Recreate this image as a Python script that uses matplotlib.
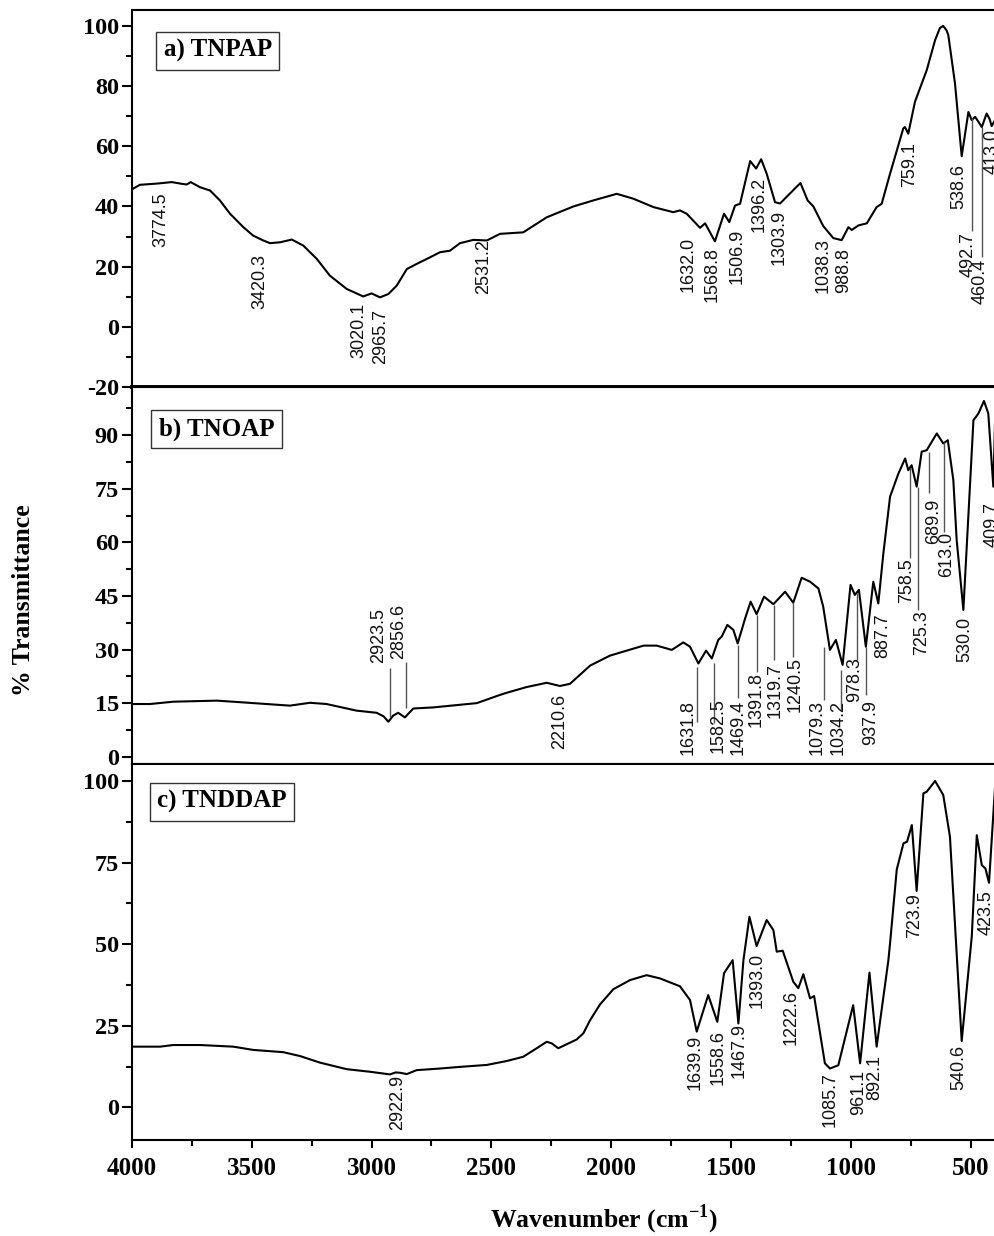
import numpy as np
import matplotlib
matplotlib.use("Agg")
import matplotlib.pyplot as plt
from matplotlib.ticker import MultipleLocator

plt.rcParams['font.family'] = ['Liberation Serif', 'DejaVu Serif']
plt.rcParams['mathtext.fontset'] = 'custom'
plt.rcParams['mathtext.rm'] = 'Liberation Serif'
plt.rcParams['mathtext.bf'] = 'Liberation Serif:bold'
plt.rcParams['axes.unicode_minus'] = False

# ---- a) TNPAP spectrum (wavenumber cm-1, %T) ----
tnpap_wn = [4000, 3967, 3897, 3834, 3790, 3772, 3755, 3716, 3674, 3633, 3591, 3535,
            3494, 3452, 3424, 3382, 3333, 3285, 3229, 3174, 3104, 3035, 3000, 2965,
            2930, 2895, 2853, 2812, 2756, 2714, 2673, 2631, 2575, 2519, 2464, 2367,
            2269, 2158, 2075, 1977, 1908, 1824, 1741, 1713, 1685, 1629, 1608, 1567,
            1529, 1507, 1483, 1462, 1420, 1395, 1374, 1351, 1316, 1295, 1254, 1210,
            1180, 1156, 1115, 1073, 1038, 1010, 996, 968, 933, 892, 871, 836, 781,
            774, 760, 750, 732, 683, 648, 628, 614, 600, 593, 565, 537, 509, 495,
            481, 470, 453, 433, 420, 412, 398]
tnpap_t = [45.7, 47.2, 47.6, 48.1, 47.5, 47.3, 48.1, 46.4, 45.3, 42.0, 37.6, 33.1,
           30.3, 28.7, 27.8, 28.1, 29.0, 27.0, 22.6, 17.0, 12.6, 10.1, 11.1, 9.8,
           10.9, 13.7, 19.2, 20.9, 23.1, 24.8, 25.3, 27.8, 28.9, 28.7, 30.9, 31.4,
           36.4, 40.0, 42.0, 44.2, 42.6, 39.8, 38.1, 38.7, 37.6, 32.9, 34.4, 28.4,
           37.6, 34.8, 40.3, 40.9, 55.1, 52.6, 55.7, 50.9, 41.4, 41.0, 44.3, 47.8,
           42.0, 40.0, 33.5, 29.5, 28.8, 33.1, 32.2, 33.7, 34.4, 39.8, 40.9, 50.9, 65.9,
           66.4, 64.2, 68.0, 74.8, 85.3, 95.3, 99.3, 100.0, 98.5, 97.0, 80.9, 56.7, 71.4, 68.7,
           69.8, 68.5, 66.4, 70.9, 69.0, 66.7, 68.7]

# ---- b) TNOAP spectrum ----
tnoap_wn = [4000, 3925, 3828, 3646, 3535, 3341, 3257, 3188, 3063, 2979, 2950, 2930,
            2910, 2889, 2861, 2826, 2743, 2561, 2464, 2436, 2353, 2269, 2214, 2172,
            2088, 2005, 1865, 1810, 1747, 1699, 1671, 1636, 1604, 1580, 1553, 1539,
            1515, 1490, 1472, 1441, 1418, 1393, 1362, 1323, 1274, 1240, 1205, 1170,
            1135, 1115, 1087, 1062, 1034, 1001, 983, 966, 937, 906, 885, 864, 836,
            801, 773, 760, 746, 725, 704, 683, 641, 614, 595, 572, 558, 530, 488,
            467, 444, 426, 405, 398]
tnoap_t = [14.75, 14.75, 15.4, 15.7, 15.2, 14.3, 15.1, 14.75, 12.9, 12.3, 11.3, 9.8,
           11.5, 12.3, 11.0, 13.5, 13.8, 15.0, 17.3, 17.9, 19.5, 20.7, 19.8, 20.4,
           25.5, 28.3, 31.1, 31.1, 29.9, 32.0, 30.8, 26.1, 29.7, 27.5, 32.7, 33.6,
           36.9, 35.5, 31.7, 38.7, 43.4, 39.9, 44.8, 42.7, 46.2, 43.1, 50.1, 49.0,
           47.1, 42.0, 29.9, 32.7, 25.7, 48.1, 45.3, 46.7, 30.8, 49.0, 42.9, 56.9, 72.8,
           79.3, 83.5, 80.2, 81.6, 75.6, 85.4, 85.8, 90.5, 87.7, 88.6, 77.5, 60.7, 41.1, 94.2,
           96.1, 99.6, 96.1, 75.6, 93.3]

# ---- c) TNDDAP spectrum ----
tnddap_wn = [4000, 3883, 3828, 3716, 3577, 3494, 3368, 3298, 3215, 3104, 3006, 2923,
             2900, 2881, 2853, 2812, 2714, 2631, 2519, 2436, 2367, 2311, 2269, 2248,
             2221, 2144, 2116, 2088, 2047, 1991, 1921, 1852, 1796, 1713, 1671, 1643,
             1595, 1557, 1529, 1493, 1469, 1448, 1423, 1393, 1351, 1323, 1309, 1284,
             1240, 1219, 1198, 1170, 1153, 1108, 1087, 1052, 990, 961, 922, 892, 843,
             836, 808, 780, 765, 745, 725, 697, 683, 648, 614, 586, 537, 495, 474,
             453, 438, 423, 398]
tnddap_t = [18.6, 18.6, 19.1, 19.1, 18.6, 17.6, 16.9, 15.7, 13.7, 11.7, 10.9, 10.1,
            10.7, 10.6, 10.2, 11.4, 11.9, 12.4, 13.0, 14.2, 15.5, 18.1, 20.1, 19.6,
            18.1, 20.8, 22.7, 26.7, 31.5, 36.2, 39.0, 40.5, 39.5, 37.1, 32.9, 23.2,
            34.4, 26.2, 41.1, 45.1, 25.7, 45.1, 58.4, 49.4, 57.4, 54.3, 47.7, 48.0,
            38.5, 36.5, 40.8, 33.4, 34.1, 13.5, 11.9, 12.9, 31.3, 13.5, 41.3, 18.6, 45.1,
            50.3, 72.9, 80.9, 81.4, 86.5, 66.3, 96.2, 96.7, 100.0, 95.7, 82.9, 20.3, 52.3, 83.4,
            74.2, 73.2, 68.8, 98.0]

# peak labels: (text, x, top of text)
a_labels = [("3774.5", 3879, 44.8), ("3420.3", 3466, 24.2), ("3020.1", 3055, 8.1),
            ("2965.7", 2961, 5.9), ("2531.2", 2534, 29.2), ("1632.0", 1678, 29.8),
            ("1568.8", 1578, 26.4), ("1506.9", 1473, 32.6), ("1396.2", 1383, 50.0),
            ("1303.9", 1298, 38.9), ("1038.3", 1117, 29.6), ("988.8", 1031, 26.2),
            ("759.1", 756, 61.4), ("538.6", 547, 54.0), ("492.7", 509, 31.4),
            ("460.4", 460, 22.6), ("413.0", 408, 65.9)]
a_lines = [(495, 69.3, 32.0), (453, 66.4, 23.1)]

b_labels = [("2923.5", 2969, 41.5), ("2856.6", 2888, 42.9), ("2210.6", 2214, 17.7),
            ("1631.8", 1678, 15.9), ("1582.5", 1553, 16.3), ("1469.4", 1469, 15.9),
            ("1391.8", 1393, 23.8), ("1319.7", 1316, 26.1), ("1240.5", 1233, 28.0),
            ("1079.3", 1142, 15.9), ("1034.2", 1052, 15.9), ("978.3", 982, 28.0),
            ("937.9", 917, 15.9), ("887.7", 867, 40.1), ("758.5", 766, 55.5),
            ("725.3", 704, 41.1), ("689.9", 656, 72.3), ("613.0", 600, 63.0),
            ("530.0", 523, 39.2), ("409.7", 408, 71.4)]
b_lines = [(2923, 24.7, 11.2), (2856, 26.6, 13.5), (1643, 25.2, 9.8), (1570, 26.1, 9.3),
           (1472, 31.3, 16.3), (1393, 39.7, 23.8), (1319, 42.5, 27.1), (1240, 43.4, 28.0),
           (1110, 30.8, 15.9), (1042, 24.3, 13.1), (972, 45.7, 27.1), (936, 30.8, 17.3),
           (752, 80.7, 55.5), (721, 75.6, 41.1), (673, 85.4, 73.7), (611, 88.2, 63.0)]

c_labels = [("2922.9", 2893, 9.9), ("1639.9", 1650, 22.2), ("1558.6", 1553, 23.7),
            ("1467.9", 1465, 25.7), ("1393.0", 1390, 47.2), ("1222.6", 1251, 35.9),
            ("1085.7", 1087, 10.9), ("961.1", 968, 11.4), ("892.1", 899, 16.0),
            ("723.9", 732, 65.6), ("540.6", 551, 19.1), ("423.5", 433, 66.6)]
c_lines = []

panels = [
    dict(name="a) TNPAP", wn=tnpap_wn, t=tnpap_t, labels=a_labels, lines=a_lines,
         ylim=(-20, 105.3), minor=10, ticks=np.arange(-20, 101, 20),
         rect=[132/995, 1 - 387/1236, 863/995, 377/1236], box=(0.0993, 0.892)),
    dict(name="b) TNOAP", wn=tnoap_wn, t=tnoap_t, labels=b_labels, lines=b_lines,
         ylim=(-2.04, 103.5), minor=7.5, ticks=np.arange(0, 91, 15),
         rect=[132/995, 1 - 764/1236, 863/995, 377/1236], box=(0.0981, 0.889)),
    dict(name="c) TNDDAP", wn=tnddap_wn, t=tnddap_t, labels=c_labels, lines=c_lines,
         ylim=(-10, 105.2), minor=12.5, ticks=np.arange(0, 101, 25),
         rect=[132/995, 1 - 1140/1236, 863/995, 376/1236], box=(0.1045, 0.8995)),
]

fig = plt.figure(figsize=(9.95, 12.36), dpi=100)

for i, p in enumerate(panels):
    ax = fig.add_axes(p['rect'])
    ax.plot(p['wn'], p['t'], color='black', lw=1.5, solid_joinstyle='round')
    ax.set_xlim(4000, 398)
    ax.set_ylim(*p['ylim'])
    ax.set_yticks(p['ticks'])
    ax.yaxis.set_minor_locator(MultipleLocator(p['minor']))
    ax.tick_params(axis='y', which='major', direction='out', length=7, width=1.5,
                   pad=2.5, labelsize=17.5)
    ax.tick_params(axis='y', which='minor', direction='out', length=4, width=1.5)
    for lab in ax.get_yticklabels():
        lab.set_fontweight('bold')
    ax.spines['right'].set_visible(False)
    for s in ['left', 'top', 'bottom']:
        ax.spines[s].set_linewidth(1.5)
    if i == 0:
        ax.spines['bottom'].set_linewidth(2.8)
    if i < 2:
        ax.set_xticks([])
    else:
        ax.set_xticks(np.arange(500, 4001, 500))
        ax.xaxis.set_minor_locator(MultipleLocator(250))
        ax.tick_params(axis='x', which='major', direction='out', length=6, width=1.5,
                       pad=6, labelsize=18)
        ax.tick_params(axis='x', which='minor', direction='out', length=4, width=1.5)
        for lab in ax.get_xticklabels():
            lab.set_fontweight('bold')

    for txt, x, y in p['labels']:
        ax.text(x, y, txt, rotation=90, ha='center', va='top', fontsize=13,
                family=['Liberation Sans', 'DejaVu Sans'], color='#111111', clip_on=False)
    for x, y0, y1 in p['lines']:
        ax.vlines(x, y1, y0, color='#555555', lw=1.0)

    ax.text(p['box'][0], p['box'][1], p['name'], transform=ax.transAxes,
            ha='center', va='center', fontsize=18, fontweight='bold',
            bbox=dict(boxstyle='square,pad=0.3', fc='white', ec='#333333', lw=1.0))

fig.text(0.0241, 0.5146, '% Transmittance', rotation=90, ha='center', va='center',
         fontsize=18.5, fontweight='bold')
fig.text(0.607, 0.0135, r'Wavenumber (cm$^{\mathbf{-1}}$)', ha='center', va='center',
         fontsize=18.5, fontweight='bold')

fig.savefig('out.png', dpi=100)
